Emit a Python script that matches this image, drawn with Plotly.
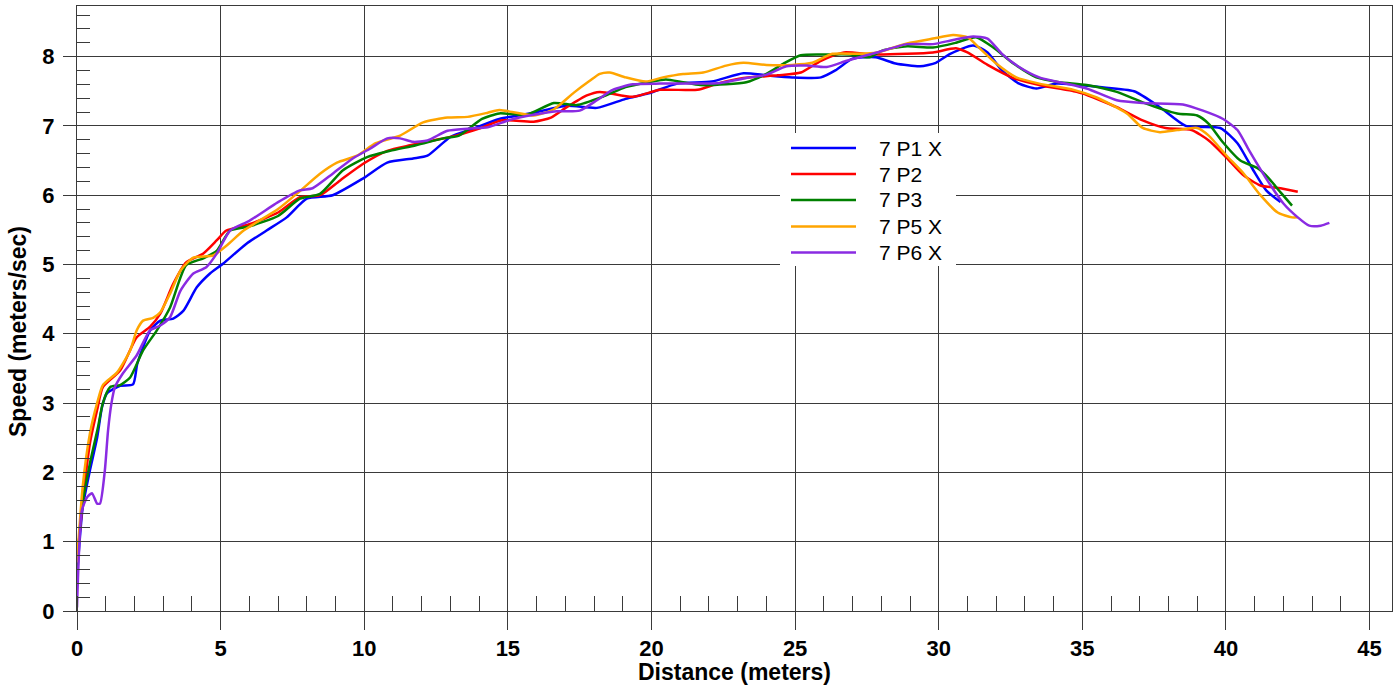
import plotly.graph_objects as go

# ---------------- data ----------------
names = ["7 P1 X", "7 P2", "7 P3", "7 P5 X", "7 P6 X"]
colors = ["#0000FF", "#FF0000", "#008000", "#FFA500", "#8A2BE2"]

p1_x = [0, 0.2, 0.45, 0.7, 0.87, 1.04, 1.5, 1.95, 2.1, 2.55, 2.9, 3.35, 3.7, 4.17, 4.63, 5.08, 5.9, 6.6, 7.3, 8.0,
        8.9, 9.95, 10.8, 11.7, 12.2, 13.0, 13.8, 14.7, 15.9, 17.05, 18.1, 19.1, 19.9, 20.9, 22.1, 23.2, 24.0, 24.9,
        25.9, 26.4, 27.0, 27.8, 28.5, 29.35, 29.9, 30.4, 31.2, 31.7, 32.2, 32.8, 33.4, 34.1, 35.6, 36.8, 37.7, 38.6,
        39.8, 40.4, 40.95, 41.4, 41.9]
p1_y = [0.5, 1.5, 2.03, 2.5, 2.94, 3.14, 3.25, 3.27, 3.57, 4.05, 4.19, 4.22, 4.33, 4.67, 4.87, 5.01, 5.3, 5.49, 5.68,
        5.95, 6.0, 6.24, 6.47, 6.53, 6.57, 6.84, 6.96, 7.1, 7.19, 7.29, 7.26, 7.39, 7.47, 7.61, 7.64, 7.76, 7.73, 7.7,
        7.7, 7.8, 7.97, 7.99, 7.9, 7.86, 7.91, 8.04, 8.16, 8.06, 7.8, 7.61, 7.54, 7.61, 7.56, 7.5, 7.27, 7.0, 6.97,
        6.75, 6.36, 6.07, 5.9]

p2_x = [0, 0.17, 0.45, 0.7, 0.9, 1.5, 2.08, 2.54, 2.9, 3.35, 3.8, 4.4, 4.87, 5.2, 6.0, 7.0, 7.76, 8.46, 9.15, 9.95,
        10.8, 11.6, 12.4, 13.2, 14.0, 14.8, 15.9, 16.5, 17.05, 17.75, 18.2, 19.35, 20.3, 21.6, 22.3, 23.2, 24.4,
        25.2, 25.9, 26.7, 27.7, 28.9, 29.8, 30.6, 31.0, 31.7, 32.6, 33.5, 34.7, 35.0, 36.2, 37.1, 37.9, 38.8, 39.4,
        40.0, 40.6, 41.2, 41.9, 42.5]
p2_y = [0.7, 1.45, 2.42, 2.9, 3.23, 3.47, 3.95, 4.1, 4.29, 4.72, 5.03, 5.16, 5.35, 5.49, 5.58, 5.75, 5.97, 6.0, 6.21,
        6.45, 6.64, 6.72, 6.79, 6.86, 6.96, 7.08, 7.06, 7.12, 7.27, 7.44, 7.49, 7.42, 7.52, 7.52, 7.61, 7.69, 7.73,
        7.77, 7.94, 8.06, 8.03, 8.04, 8.06, 8.12, 8.06, 7.88, 7.69, 7.59, 7.5, 7.47, 7.27, 7.08, 6.97, 6.94, 6.79,
        6.55, 6.29, 6.14, 6.1, 6.05]

p3_x = [0, 0.17, 0.45, 0.73, 0.9, 1.15, 1.5, 1.85, 2.3, 2.78, 3.24, 3.8, 4.4, 4.87, 5.33, 6.0, 7.0, 7.76, 8.46, 9.26,
        10.1, 10.9, 11.8, 12.75, 13.3, 14.1, 14.7, 15.65, 16.6, 17.4, 18.3, 19.1, 19.9, 20.5, 21.1, 21.7, 22.6,
        23.3, 24.0, 24.6, 25.2, 26.1, 26.9, 27.6, 28.05, 28.9, 29.8, 30.6, 31.3, 31.9, 32.6, 33.4, 34.2, 35.15,
        36.2, 37.1, 38.3, 39.0, 39.4, 39.9, 40.5, 41.1, 41.5, 41.9, 42.3]
p3_y = [0.6, 1.5, 2.13, 2.65, 3.0, 3.23, 3.26, 3.37, 3.76, 4.05, 4.38, 4.99, 5.09, 5.2, 5.49, 5.55, 5.7, 5.95, 6.02,
        6.36, 6.55, 6.64, 6.72, 6.82, 6.86, 7.1, 7.18, 7.16, 7.33, 7.3, 7.42, 7.56, 7.63, 7.67, 7.63, 7.59, 7.6, 7.63,
        7.75, 7.9, 8.02, 8.03, 8.03, 7.99, 8.09, 8.15, 8.13, 8.2, 8.28, 8.13, 7.9, 7.7, 7.63, 7.59, 7.49, 7.34, 7.18,
        7.15, 7.03, 6.76, 6.5, 6.39, 6.24, 6.04, 5.85]

p5_x = [0, 0.2, 0.45, 0.7, 0.9, 1.39, 1.85, 2.08, 2.3, 2.65, 2.9, 3.24, 3.6, 4.05, 4.74, 5.2, 5.8, 7.0, 7.76, 8.46,
        9.05, 9.75, 10.4, 11.25, 12.05, 12.9, 13.6, 14.3, 14.7, 15.3, 15.9, 16.6, 17.3, 17.85, 18.2, 18.55, 19.1,
        19.8, 20.4, 21.1, 21.8, 22.6, 23.2, 24.0, 24.9, 25.6, 26.3, 27.25, 27.85, 28.9, 29.8, 30.5, 31.0, 31.4, 32.0,
        32.7, 33.5, 34.7, 35.5, 36.55, 37.1, 37.7, 38.3, 39.0, 39.4, 40.0, 40.6, 41.2, 41.8, 42.3, 42.5]
p5_y = [0.7, 1.8, 2.56, 3.0, 3.26, 3.44, 3.76, 4.05, 4.19, 4.23, 4.31, 4.58, 4.91, 5.1, 5.13, 5.27, 5.49, 5.8, 6.06,
        6.31, 6.47, 6.57, 6.75, 6.86, 7.05, 7.12, 7.13, 7.19, 7.23, 7.19, 7.15, 7.24, 7.48, 7.65, 7.75, 7.77, 7.7,
        7.64, 7.7, 7.75, 7.77, 7.87, 7.91, 7.88, 7.88, 7.91, 8.04, 8.04, 8.06, 8.19, 8.26, 8.31, 8.28, 8.13, 7.9,
        7.7, 7.61, 7.52, 7.41, 7.18, 6.97, 6.91, 6.94, 6.97, 6.86, 6.58, 6.32, 6.0, 5.75, 5.68, 5.68]

p6_x = [0, 0.17, 0.35, 0.52, 0.7, 0.8, 0.97, 1.08, 1.2, 1.32, 1.6, 2.08, 2.54, 2.9, 3.24, 3.6, 4.05, 4.5, 4.87, 5.33,
        6.0, 7.0, 7.76, 8.2, 8.9, 9.6, 10.2, 10.8, 11.25, 11.7, 12.2, 12.9, 13.6, 14.3, 15.1, 15.9, 16.7, 17.5, 18.1,
        18.65, 19.35, 20.3, 21.45, 22.4, 23.3, 24.0, 24.7, 25.4, 26.1, 26.8, 27.85, 28.9, 29.8, 30.5, 31.2, 31.7,
        32.2, 32.8, 33.5, 34.2, 35.15, 36.2, 37.1, 38.5, 39.2, 39.9, 40.4, 40.8, 41.4, 42.0, 42.5, 42.9, 43.3, 43.6]
p6_y = [0.05, 1.45, 1.64, 1.7, 1.55, 1.55, 2.03, 2.6, 3.0, 3.23, 3.43, 3.69, 4.05, 4.12, 4.24, 4.62, 4.87, 4.96, 5.16,
        5.49, 5.63, 5.9, 6.07, 6.1, 6.31, 6.53, 6.67, 6.82, 6.82, 6.77, 6.79, 6.93, 6.96, 6.98, 7.09, 7.16, 7.21,
        7.22, 7.37, 7.52, 7.6, 7.61, 7.61, 7.62, 7.69, 7.74, 7.86, 7.87, 7.85, 7.94, 8.06, 8.18, 8.18, 8.24, 8.29,
        8.26, 8.04, 7.85, 7.7, 7.63, 7.54, 7.37, 7.33, 7.31, 7.22, 7.1, 6.94, 6.65, 6.24, 5.88, 5.68, 5.56, 5.56, 5.6]

series_x = [p1_x, p2_x, p3_x, p5_x, p6_x]
series_y = [p1_y, p2_y, p3_y, p5_y, p6_y]

x_ticks = [0, 5, 10, 15, 20, 25, 30, 35, 40, 45]
y_ticks = [0, 1, 2, 3, 4, 5, 6, 7, 8]

# ---------------- figure ----------------
W, H = 1399, 691
ML, MR, MT, MB = 77, 7, 6, 80
PW, PH = W - ML - MR, H - MT - MB
FONT = "Liberation Sans, Arial, sans-serif"

def px_to_paper(px, py):
    return (px - ML) / PW, (H - MB - py) / PH

fig = go.Figure()
for xs, ys, nm, col in zip(series_x, series_y, names, colors):
    fig.add_trace(go.Scatter(x=xs, y=ys, mode="lines", name=nm,
                             line=dict(color=col, width=2.5, shape="spline", smoothing=0.6),
                             showlegend=False))

tickfont = dict(family=FONT, size=22, color="black", weight="bold")
gridc = "#3a3a3a"

fig.update_xaxes(range=[0, 45.78], tickvals=x_ticks, ticktext=[str(v) for v in x_ticks],
                 showgrid=True, gridcolor=gridc, gridwidth=1,
                 showline=True, linecolor=gridc, linewidth=1, mirror=True,
                 ticks="outside", ticklen=18, tickcolor=gridc, tickwidth=1,
                 tickfont=tickfont, zeroline=False,
                 minor=dict(dtick=1, tick0=0, ticks="inside", ticklen=15, tickcolor=gridc, tickwidth=1, showgrid=False))
fig.update_yaxes(range=[0, 8.73], tickvals=y_ticks, ticktext=[str(v) for v in y_ticks],
                 showgrid=True, gridcolor=gridc, gridwidth=1,
                 showline=True, linecolor=gridc, linewidth=1, mirror=True,
                 ticks="outside", ticklen=13, tickcolor=gridc, tickwidth=1,
                 tickfont=tickfont, zeroline=False, ticklabelstandoff=4,
                 minor=dict(dtick=0.2, tick0=0, ticks="inside", ticklen=13, tickcolor=gridc, tickwidth=1, showgrid=False))

shapes = []
annotations = []

# axis titles
ax, ay = px_to_paper(18, 332)
annotations.append(dict(text="<b>Speed (meters/sec)</b>", xref="paper", yref="paper", x=ax, y=ay,
                        textangle=-90, showarrow=False, xanchor="center", yanchor="middle",
                        font=dict(family=FONT, size=23, color="black")))
bx, by = px_to_paper(734.5, 672)
annotations.append(dict(text="<b>Distance (meters)</b>", xref="paper", yref="paper", x=bx, y=by,
                        showarrow=False, xanchor="center", yanchor="middle",
                        font=dict(family=FONT, size=23, color="black")))

# legend box
x0, y0 = px_to_paper(780, 266)
x1, y1 = px_to_paper(956, 133)
shapes.append(dict(type="rect", xref="paper", yref="paper", x0=x0, y0=y0, x1=x1, y1=y1,
                   fillcolor="white", line=dict(width=0), layer="above"))
row_y = [148, 174, 200, 226.5, 252.5]
for nm, col, ry in zip(names, colors, row_y):
    lx0, ly = px_to_paper(791, ry)
    lx1, _ = px_to_paper(856, ry)
    shapes.append(dict(type="line", xref="paper", yref="paper", x0=lx0, x1=lx1, y0=ly, y1=ly,
                       line=dict(color=col, width=2.5), layer="above"))
    tx, _ = px_to_paper(877, ry)
    annotations.append(dict(text=nm, xref="paper", yref="paper", x=tx, y=ly, showarrow=False,
                            xanchor="left", yanchor="middle",
                            font=dict(family=FONT, size=21, color="black")))

fig.update_layout(width=W, height=H, margin=dict(l=ML, r=MR, t=MT, b=MB),
                  plot_bgcolor="white", paper_bgcolor="white",
                  shapes=shapes, annotations=annotations, showlegend=False)

fig.write_html("out.html", config={"displayModeBar": False},
               post_script="document.body.style.margin='0';document.body.style.overflow='hidden';")
